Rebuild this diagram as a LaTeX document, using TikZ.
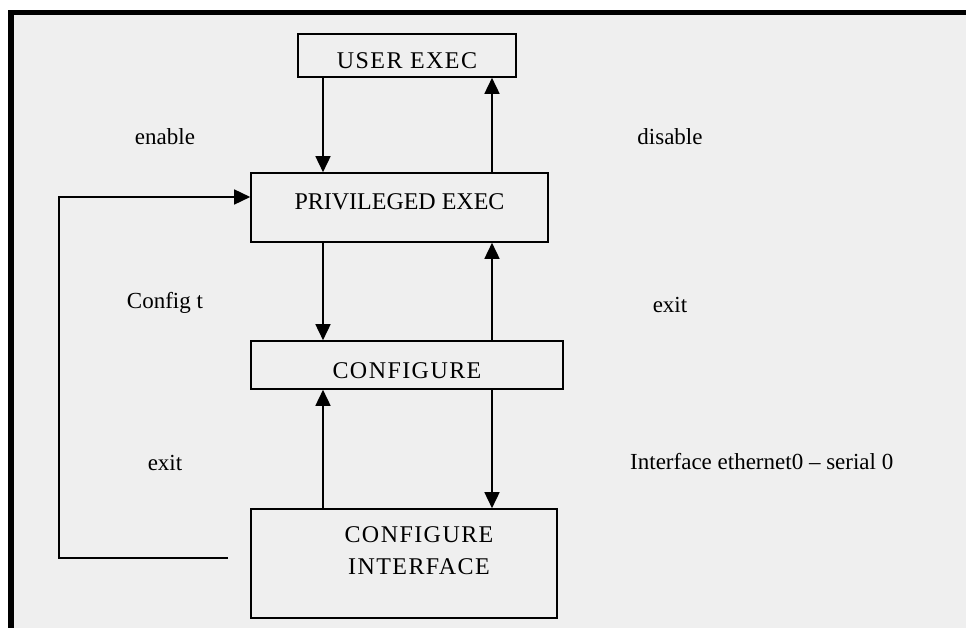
\documentclass[tikz,border=0pt]{standalone}
\usepackage{fontspec}
\setmainfont{Liberation Serif}
\newfontfamily\boxfont[LetterSpace=6]{Liberation Serif}
\usetikzlibrary{arrows.meta,positioning,calc}
\definecolor{bgr}{RGB}{239,239,239}

\begin{document}
\begin{tikzpicture}[x=1pt,y=-1pt,
  mode/.style={draw,line width=1.6pt,inner sep=0pt,align=center,font=\boxfont\fontsize{24}{32}\selectfont},
  lab/.style={font=\fontsize{23}{26}\selectfont,inner sep=0pt},
  arr/.style={-{Triangle[length=16pt,width=15pt]},line width=1.6pt}]
\useasboundingbox (0,0) rectangle (966,628);
\fill[black] (8,10) rectangle (966,628);
\fill[bgr] (14,15) rectangle (966,628);
\node[mode,minimum width=218pt,minimum height=43pt,text height=27pt,text depth=0pt] (user) at (407,55.5) {USER EXEC};
\node[mode,minimum width=297pt,minimum height=69pt,text height=17pt,text depth=12pt,font=\fontsize{24}{32}\selectfont] (priv) at (399.5,207.5) {PRIVILEGED EXEC};
\node[mode,minimum width=312pt,minimum height=48pt,text height=27pt,text depth=0pt] (conf) at (407,365) {CONFIGURE};
\node[mode,minimum width=306pt,minimum height=109pt,
  label={[mode,draw=none,anchor=north,yshift=-18pt,xshift=15pt]north:CONFIGURE\\INTERFACE}] (ci) at (404,563.5) {};
\coordinate (dn) at (323,0);
\coordinate (up) at (492,0);
\coordinate (lp) at (228,558);
\draw[arr] (user.south -| dn) -- (priv.north -| dn);
\draw[arr] (priv.north -| up) -- (user.south -| up);
\draw[arr] (priv.south -| dn) -- (conf.north -| dn);
\draw[arr] (conf.north -| up) -- (priv.south -| up);
\draw[arr] (ci.north -| dn) -- (conf.south -| dn);
\draw[arr] (conf.south -| up) -- (ci.north -| up);
\draw[arr] (lp) -- ++(-169,0) |- ([yshift=10.5pt]priv.west);
\node[lab] (enable) at (165,137) {enable};
\node[lab] (disable) at (670,137) {disable};
\node[lab] (cfgt) at (165,303) {Config t};
\node[lab] (exitr) at (670,305) {exit};
\node[lab] (exitl) at (165,463) {exit};
\node[lab,anchor=west] (iface) at (630,462) {Interface ethernet0 -- serial 0};
\end{tikzpicture}
\end{document}
